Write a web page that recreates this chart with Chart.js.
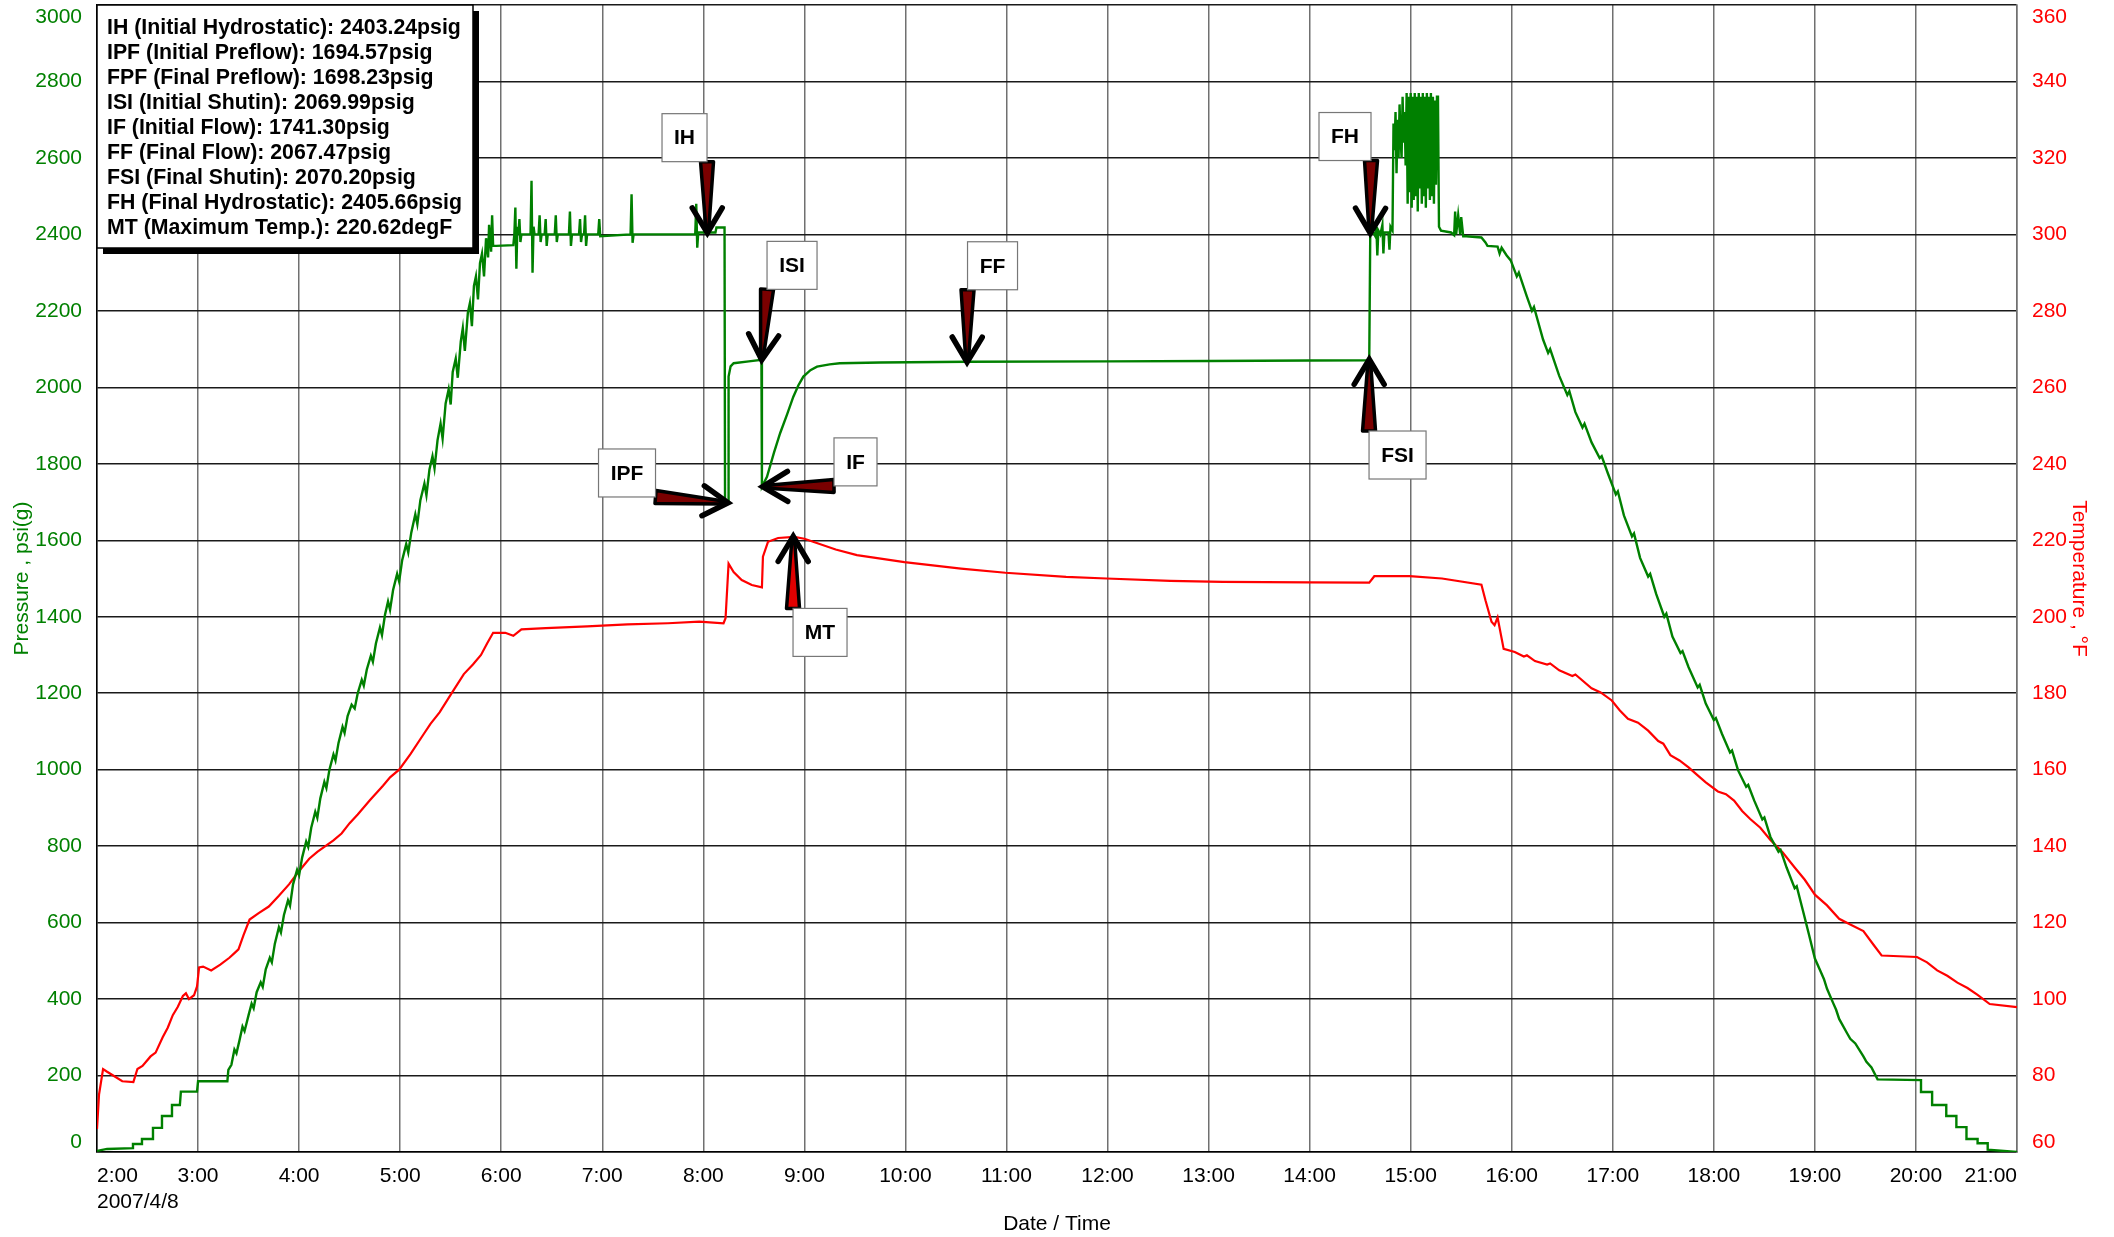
<!DOCTYPE html>
<html lang="en">
<head>
<meta charset="UTF-8">
<title>Pressure / Temperature</title>
<script src="https://cdn.jsdelivr.net/npm/chart.js@4.4.1/dist/chart.umd.min.js"></script>
<style>
  html, body { margin: 0; padding: 0; background: #fff; }
</style>
</head>
<body>
<canvas id="myChart" width="2114" height="1237"></canvas>
<script>
// time in hours (2 = 2:00), pressure in psi(g)
const pressureTime = [
  2.00, 2.10, 2.356, 2.356, 2.445, 2.445, 2.554, 2.554, 2.643, 2.643, 2.742, 2.742, 2.82, 2.83, 2.99, 3.00, 3.29, 3.30,
  3.33, 3.36, 3.38, 3.41, 3.44, 3.46, 3.50, 3.53, 3.55, 3.58, 3.62, 3.64, 3.67, 3.71, 3.73, 3.76, 3.80, 3.82, 3.85, 3.89,
  3.91, 3.94, 3.98, 4.00, 4.03, 4.07, 4.09, 4.12, 4.16, 4.18, 4.21, 4.25, 4.27, 4.30, 4.34, 4.36, 4.39, 4.43, 4.45, 4.48,
  4.52, 4.55, 4.58, 4.62, 4.64, 4.67, 4.71, 4.73, 4.76, 4.80, 4.82, 4.85, 4.88, 4.90, 4.93, 4.97, 4.99, 5.02, 5.06, 5.08,
  5.11, 5.15, 5.17, 5.20, 5.24, 5.26, 5.29, 5.32, 5.34, 5.37, 5.40, 5.42, 5.45, 5.48, 5.50, 5.52, 5.55, 5.57, 5.60, 5.62,
  5.64, 5.67, 5.69, 5.71, 5.73, 5.75, 5.77, 5.79, 5.81, 5.83, 5.85, 5.87, 5.88, 5.90, 5.91, 5.92, 5.95, 6.12,
  6.13, 6.14, 6.15, 6.16, 6.17, 6.18, 6.19, 6.20, 6.29, 6.30, 6.31, 6.32, 6.33, 6.37, 6.38, 6.39, 6.40, 6.43, 6.44, 6.45,
  6.46, 6.53, 6.54, 6.55, 6.56, 6.67, 6.68, 6.69, 6.70, 6.77, 6.78, 6.79, 6.80, 6.82, 6.83, 6.84, 6.85, 6.96, 6.97, 6.98,
  7.28, 7.29, 7.30, 7.31, 7.92, 7.93, 7.94, 7.95, 8.12, 8.13, 8.21, 8.215, 8.245, 8.25, 8.27, 8.30, 8.45, 8.575, 8.58,
  8.63, 8.70, 8.76, 8.83, 8.89, 8.94, 8.99, 9.06, 9.125, 9.25, 9.35, 9.75, 10.61, 12.0, 13.0, 14.0, 14.59,
  14.60, 14.63, 14.65, 14.66, 14.67, 14.68, 14.70, 14.72, 14.73, 14.74, 14.78, 14.79, 14.80, 14.82,
  14.83, 14.84, 14.85, 14.86, 14.87, 14.88, 14.89, 14.90, 14.91, 14.92, 14.93, 14.94, 14.95, 14.96, 14.97, 14.98, 14.99,
  15.00, 15.01, 15.02, 15.03, 15.04, 15.05, 15.06, 15.07, 15.08, 15.09, 15.10, 15.11, 15.12, 15.13, 15.14, 15.15, 15.16,
  15.17, 15.18, 15.19, 15.20, 15.21, 15.22, 15.23, 15.24, 15.25, 15.26, 15.27, 15.28, 15.30, 15.40, 15.43, 15.44, 15.45,
  15.47, 15.49, 15.50, 15.52, 15.55, 15.70, 15.74, 15.76, 15.86, 15.88, 15.90, 15.95, 15.99, 16.05, 16.07, 16.15, 16.20,
  16.22, 16.31, 16.36, 16.38, 16.47, 16.55, 16.57, 16.63, 16.70, 16.72, 16.79, 16.87, 16.89, 16.95, 17.03, 17.05, 17.11,
  17.19, 17.21, 17.27, 17.35, 17.37, 17.43, 17.51, 17.53, 17.59, 17.67, 17.69, 17.75, 17.84, 17.86, 17.92, 18.00, 18.02,
  18.08, 18.16, 18.18, 18.24, 18.32, 18.34, 18.40, 18.48, 18.50, 18.56, 18.64, 18.66, 18.72, 18.80, 18.82, 18.88, 18.94,
  19.00, 19.06, 19.09, 19.12, 19.18, 19.21, 19.24, 19.32, 19.35, 19.40, 19.48, 19.51, 19.56, 19.62, 20.05, 20.05, 20.16,
  20.16, 20.30, 20.30, 20.40, 20.40, 20.50, 20.50, 20.61, 20.61, 20.71, 20.71, 21.00
];
const pressureValue = [
  3, 8, 10, 21, 21, 34, 34, 63, 63, 94, 94, 123, 123, 158, 158, 185, 185, 215,
  228, 268, 258, 292, 328, 316, 358, 388, 376, 418, 444, 432, 478, 508, 496, 545, 588, 574, 620, 658,
  644, 700, 738, 724, 770, 812, 798, 848, 890, 874, 925, 968, 952, 1000, 1040, 1024, 1070, 1112, 1096, 1140,
  1170, 1160, 1200, 1235, 1220, 1262, 1298, 1282, 1330, 1372, 1352, 1405, 1440, 1418, 1470, 1512, 1492, 1548, 1590, 1568,
  1620, 1668, 1642, 1705, 1748, 1718, 1785, 1820, 1788, 1862, 1905, 1866, 1958, 1995, 1955, 2040, 2075, 2025, 2120, 2155,
  2095, 2195, 2220, 2160, 2265, 2290, 2230, 2325, 2350, 2290, 2390, 2340, 2425, 2355, 2450, 2370, 2370, 2372,
  2400, 2470, 2310, 2420, 2400, 2440, 2380, 2400, 2400, 2540, 2300, 2420, 2400, 2400, 2450, 2380, 2400, 2400, 2440, 2370,
  2400, 2400, 2450, 2380, 2400, 2400, 2460, 2370, 2400, 2400, 2440, 2380, 2400, 2400, 2450, 2370, 2400, 2400, 2440, 2395,
  2400, 2505, 2378, 2400, 2400, 2480, 2365, 2405, 2405, 2418, 2418, 1698, 1698, 2028, 2055, 2063, 2068, 2072, 1740,
  1766, 1830, 1880, 1930, 1975, 2005, 2028, 2045, 2054, 2060, 2063, 2065, 2067, 2068, 2069, 2070, 2071,
  2403, 2405, 2395, 2420, 2345, 2410, 2400, 2425, 2350, 2405, 2405, 2360, 2420, 2410,
  2690, 2620, 2720, 2560, 2700, 2600, 2740, 2650, 2600, 2760, 2640, 2720, 2580, 2770, 2480, 2760, 2510,
  2770, 2470, 2760, 2490, 2770, 2500, 2760, 2460, 2770, 2520, 2760, 2480, 2770, 2500, 2760, 2470, 2770,
  2520, 2760, 2490, 2770, 2500, 2760, 2480, 2750, 2530, 2760, 2760, 2420, 2410, 2405, 2398, 2460, 2400,
  2450, 2400, 2445, 2395, 2395, 2392, 2379, 2370, 2368, 2350, 2365, 2345, 2332, 2290, 2300, 2237, 2200,
  2210, 2125, 2090, 2100, 2030, 1980, 1990, 1935, 1895, 1905, 1856, 1815, 1820, 1776, 1720, 1728, 1665,
  1610, 1618, 1554, 1505, 1512, 1459, 1400, 1408, 1348, 1305, 1310, 1268, 1215, 1222, 1173, 1130, 1135,
  1094, 1045, 1050, 998, 955, 960, 919, 870, 875, 824, 785, 790, 744, 690, 695, 633, 570,
  506, 470, 452, 427, 390, 372, 348, 310, 296, 284, 250, 236, 221, 190, 188, 157, 157,
  123, 123, 94, 94, 65, 65, 34, 34, 23, 23, 6, 0
];

// time in hours, temperature in degF
const tempTime = [
  2.00, 2.02, 2.06, 2.10, 2.16, 2.25, 2.36, 2.40, 2.45, 2.53, 2.58, 2.65, 2.70, 2.75, 2.80, 2.85, 2.88, 2.91, 2.96, 2.99,
  3.01, 3.05, 3.13, 3.22, 3.31, 3.36, 3.40, 3.45, 3.51, 3.60, 3.70, 3.80, 3.90, 4.00, 4.10, 4.18, 4.26, 4.34, 4.42, 4.50,
  4.58, 4.70, 4.83, 4.90, 4.99, 5.10, 5.23, 5.30, 5.39, 5.51, 5.63, 5.72, 5.80, 5.86, 5.92, 6.04, 6.12, 6.20, 6.44, 6.85,
  7.25, 7.65, 7.96, 8.20, 8.22, 8.25, 8.30, 8.38, 8.48, 8.58, 8.59, 8.64, 8.74, 8.90, 9.00, 9.31, 9.52, 9.99, 10.55, 10.99,
  11.59, 11.99, 12.62, 13.14, 13.99, 14.59, 14.64, 14.99, 15.31, 15.70, 15.74, 15.80, 15.83, 15.86, 15.92, 16.03, 16.12,
  16.15, 16.23, 16.35, 16.38, 16.47, 16.60, 16.63, 16.79, 16.88, 16.99, 17.07, 17.15, 17.25, 17.35, 17.45, 17.50, 17.57,
  17.66, 17.75, 17.84, 17.92, 18.04, 18.12, 18.20, 18.28, 18.36, 18.46, 18.56, 18.68, 18.80, 18.90, 19.00, 19.12, 19.24,
  19.36, 19.48, 19.58, 19.66, 20.01, 20.11, 20.21, 20.31, 20.41, 20.51, 20.61, 20.73, 21.00
];
const tempValue = [
  66, 75, 81.7, 81, 80, 78.5, 78.3, 81.7, 82.5, 85, 86, 90, 92.5, 95.8, 98, 100.8, 101.5, 100, 101, 103.3,
  108.3, 108.5, 107.5, 109, 110.8, 112, 113, 116.7, 120.8, 122.5, 124.2, 127, 130, 133.5, 136.7, 138.5, 140, 141.5, 143.3, 146,
  148.3, 152, 155.8, 158, 160, 164, 169.2, 172, 175, 180, 185, 187.5, 190, 193, 195.8, 195.8, 195, 196.7, 197, 197.5,
  198, 198.3, 198.7, 198.3, 199.6, 213.9, 211.7, 209.6, 208.3, 207.7, 215.7, 219.6, 220.6, 220.9, 220.4, 217.6, 216.1, 214.3, 212.6, 211.5,
  210.4, 210.0, 209.4, 209.1, 209.0, 208.9, 210.6, 210.6, 210.0, 208.4, 204.3, 198.7, 197.8, 199.8, 191.6, 190.8, 189.6,
  189.9, 188.4, 187.5, 187.8, 186.0, 184.5, 184.9, 181.3, 180.2, 178.1, 175.5, 173.3, 172.3, 170.2, 167.5, 166.8, 163.8,
  162.4, 160.6, 158.5, 156.7, 154.3, 153.6, 151.9, 149.2, 147.1, 144.8, 141.6, 138.4, 134.4, 131.2, 127.3, 124.5, 121.0,
  119.4, 117.8, 114.2, 111.4, 111.0, 109.6, 107.5, 106.1, 104.3, 102.9, 101.1, 98.7, 97.9
];

// test summary shown in the box
const summaryLines = [
  'IH (Initial Hydrostatic): 2403.24psig',
  'IPF (Initial Preflow): 1694.57psig',
  'FPF (Final Preflow): 1698.23psig',
  'ISI (Initial Shutin): 2069.99psig',
  'IF (Initial Flow): 1741.30psig',
  'FF (Final Flow): 2067.47psig',
  'FSI (Final Shutin): 2070.20psig',
  'FH (Final Hydrostatic): 2405.66psig',
  'MT (Maximum Temp.): 220.62degF'
];

// event markers: where the arrow points and where the label sits (time, axis value)
const markerNames    = ['IH', 'IPF', 'ISI', 'IF', 'FF', 'FH', 'FSI', 'MT'];
const markerAxis     = ['y', 'y', 'y', 'y', 'y', 'y', 'y', 'y1'];
const markerTime     = [8.04, 8.245, 8.578, 8.587, 10.61, 14.60, 14.59, 8.89];
const markerValue    = [2404, 1698, 2072, 1740, 2066, 2403, 2073, 221];
const markerLblTime  = [7.814, 7.245, 8.878, 9.506, 10.862, 14.35, 14.87, 9.155];
const markerLblValue = [2653, 1776, 2319, 1805, 2318, 2656, 1823, 195.9];

const FAMILY = '"Liberation Sans", Arial, Helvetica, sans-serif';
Chart.defaults.font.family = FAMILY;
Chart.defaults.font.size = 21;

function drawArrow(ctx, tx, ty, hx, hy, fill) {
  const ang = Math.atan2(hy - ty, hx - tx);
  const len = Math.hypot(hx - tx, hy - ty);
  ctx.save();
  ctx.translate(hx, hy);
  ctx.rotate(ang);
  ctx.beginPath();
  ctx.moveTo(-len, -6.5);
  ctx.lineTo(-5, -1.5);
  ctx.lineTo(-5, 1.5);
  ctx.lineTo(-len, 6.5);
  ctx.closePath();
  ctx.fillStyle = fill;
  ctx.fill();
  ctx.lineWidth = 3.5;
  ctx.lineJoin = 'round';
  ctx.strokeStyle = '#000';
  ctx.stroke();
  ctx.beginPath();
  ctx.moveTo(-25, -15);
  ctx.lineTo(0, 0);
  ctx.lineTo(-25, 15);
  ctx.lineWidth = 5.5;
  ctx.lineCap = 'round';
  ctx.lineJoin = 'miter';
  ctx.stroke();
  ctx.restore();
}

const markersPlugin = {
  id: 'markers',
  beforeDraw(chart) {
    // keep the first and last value labels inside the plot, like the original
    const area = chart.chartArea;
    ['y', 'y1'].forEach(id => {
      const items = chart.scales[id].getLabelItems();
      items[0].options.translation[1] = area.bottom - 10;
      items[items.length - 1].options.translation[1] = area.top + 12;
    });
  },
  afterDatasetsDraw(chart) {
    const ctx = chart.ctx;
    const xs = chart.scales.x;
    ctx.save();
    ctx.font = 'bold 21px ' + FAMILY;
    const boxes = markerNames.map((name, i) => {
      const ys = chart.scales[markerAxis[i]];
      const cx = xs.getPixelForValue(markerLblTime[i]);
      const cy = ys.getPixelForValue(markerLblValue[i]);
      const w = Math.round(ctx.measureText(name).width + 24), h = 48;
      const box = { x0: cx - w / 2, y0: cy - h / 2, w, h };
      const px = xs.getPixelForValue(markerTime[i]);
      const py = ys.getPixelForValue(markerValue[i]);
      // tail at the box corner nearest to the point
      const tx = Math.abs(px - box.x0) < Math.abs(px - (box.x0 + w)) ? box.x0 : box.x0 + w;
      const ty = Math.abs(py - box.y0) < Math.abs(py - (box.y0 + h)) ? box.y0 : box.y0 + h;
      drawArrow(ctx, tx, ty, px, py, markerAxis[i] === 'y1' ? '#e00000' : '#7a0000');
      return box;
    });
    boxes.forEach((b, i) => {
      ctx.fillStyle = '#fff';
      ctx.fillRect(b.x0, b.y0, b.w, b.h);
      ctx.strokeStyle = '#777';
      ctx.lineWidth = 1.2;
      ctx.strokeRect(b.x0, b.y0, b.w, b.h);
      ctx.fillStyle = '#000';
      ctx.textAlign = 'center';
      ctx.textBaseline = 'middle';
      ctx.fillText(markerNames[i], b.x0 + b.w / 2, b.y0 + b.h / 2 + 1);
    });
    ctx.restore();
  },
  afterDraw(chart) {
    const ctx = chart.ctx;
    const left = chart.chartArea.left, top = chart.chartArea.top;
    ctx.save();
    ctx.font = 'bold 21.3px ' + FAMILY;
    let w = 0;
    summaryLines.forEach(s => { w = Math.max(w, ctx.measureText(s).width); });
    w = Math.round(w + 21);
    const h = 243;
    ctx.fillStyle = '#000';
    ctx.fillRect(left + 6, top + 6, w, h);
    ctx.fillStyle = '#fff';
    ctx.fillRect(left, top, w, h);
    ctx.strokeStyle = '#000';
    ctx.lineWidth = 1.5;
    ctx.strokeRect(left, top, w, h);
    ctx.fillStyle = '#000';
    ctx.textAlign = 'left';
    ctx.textBaseline = 'middle';
    summaryLines.forEach((s, i) => ctx.fillText(s, left + 10, top + 23 + i * 25));
    ctx.restore();
  }
};

const fixY = s => { s.width = 97; s.paddingTop = 0; s.paddingBottom = 0; };

const ctx = document.getElementById('myChart').getContext('2d');
new Chart(ctx, {
  type: 'line',
  data: {
    datasets: [
      {
        label: 'Pressure',
        data: pressureTime.map((t, i) => ({ x: t, y: pressureValue[i] })),
        yAxisID: 'y',
        borderColor: '#008000',
        borderWidth: 2.4,
        pointRadius: 0,
        tension: 0,
        fill: false
      },
      {
        label: 'Temperature',
        data: tempTime.map((t, i) => ({ x: t, y: tempValue[i] })),
        yAxisID: 'y1',
        borderColor: '#ff0000',
        borderWidth: 2.2,
        pointRadius: 0,
        tension: 0,
        fill: false
      }
    ]
  },
  options: {
    responsive: false,
    animation: false,
    events: [],
    layout: { padding: { top: 5, left: 0, right: 0, bottom: 0 } },
    plugins: { legend: { display: false }, tooltip: { enabled: false } },
    scales: {
      x: {
        type: 'linear',
        min: 2,
        max: 21,
        ticks: {
          stepSize: 1,
          align: 'inner',
          padding: 12,
          color: '#000',
          maxRotation: 0,
          autoSkip: false,
          callback: v => v === 2 ? ['2:00', '2007/4/8'] : v + ':00'
        },
        grid: { color: '#707070', lineWidth: 1.5, drawTicks: false },
        border: { color: '#000', width: 1.5 },
        title: { display: true, text: 'Date / Time', color: '#000', padding: { top: 0, bottom: 0 } },
        afterFit: s => { s.height = 85; s.paddingLeft = 0; s.paddingRight = 0; }
      },
      y: {
        position: 'left',
        min: 0,
        max: 3000,
        ticks: { stepSize: 200, padding: 15, color: '#008000', callback: v => String(v) },
        grid: { color: '#1a1a1a', lineWidth: 1.5, drawTicks: false },
        border: { color: '#000', width: 1.5 },
        title: { display: true, text: 'Pressure , psi(g)', color: '#008000', padding: { top: 10, bottom: 0 } },
        afterFit: fixY
      },
      y1: {
        position: 'right',
        min: 60,
        max: 360,
        ticks: { stepSize: 20, padding: 15, color: '#ff0000', callback: v => String(v) },
        grid: { drawOnChartArea: false, drawTicks: false },
        border: { color: '#707070', width: 1.5 },
        title: { display: true, text: 'Temperature , °F', color: '#ff0000', padding: { top: 23, bottom: 0 } },
        afterFit: fixY
      }
    }
  },
  plugins: [markersPlugin]
});
</script>
</body>
</html>
